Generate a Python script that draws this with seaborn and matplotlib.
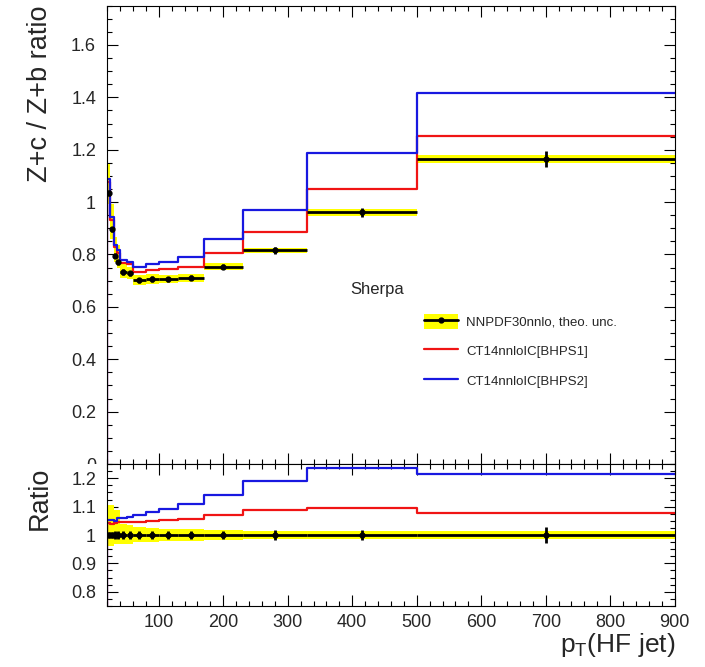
import numpy as np
import pandas as pd
import matplotlib
matplotlib.use("Agg")
import matplotlib.pyplot as plt
import seaborn as sns
from matplotlib.patches import Patch, Rectangle
from matplotlib.lines import Line2D
from matplotlib.ticker import MultipleLocator, FuncFormatter

# ---------------- data ----------------
bin_edges = [20, 25, 30, 35, 40, 50, 60, 80, 100, 130, 170, 230, 330, 500, 900]
nnpdf = [1.036, 0.896, 0.796, 0.770, 0.733, 0.728, 0.702, 0.706, 0.705, 0.711, 0.753, 0.816, 0.961, 1.165]
nnpdf_err = [0.012, 0.010, 0.010, 0.010, 0.010, 0.010, 0.010, 0.010, 0.010, 0.010, 0.010, 0.013, 0.017, 0.032]
theo_up = [0.107, 0.107, 0.088, 0.088, 0.040, 0.035, 0.028, 0.025, 0.022, 0.020, 0.018, 0.013, 0.013, 0.013]
theo_dn = [0.040, 0.040, 0.030, 0.030, 0.030, 0.030, 0.025, 0.025, 0.022, 0.020, 0.018, 0.013, 0.013, 0.013]
bhps1 = [1.078, 0.932, 0.830, 0.804, 0.766, 0.762, 0.735, 0.740, 0.743, 0.751, 0.805, 0.887, 1.051, 1.254]
bhps2 = [1.090, 0.944, 0.836, 0.817, 0.778, 0.773, 0.751, 0.764, 0.770, 0.789, 0.860, 0.970, 1.189, 1.415]
labels = ["NNPDF30nnlo, theo. unc.", "CT14nnloIC[BHPS1]", "CT14nnloIC[BHPS2]"]

edges = np.array(bin_edges, float)
centers = 0.5 * (edges[:-1] + edges[1:])
halfw = 0.5 * (edges[1:] - edges[:-1])
widths = edges[1:] - edges[:-1]
c0 = np.array(nnpdf)
err = np.array(nnpdf_err)
up = np.array(theo_up)
dn = np.array(theo_dn)
r1 = np.array(bhps1)
r2 = np.array(bhps2)

YEL = "#ffff00"
RED = "#f01414"
BLUE = "#1818e0"


def step_frame(vals, base, name):
    x = [edges[0]] + list(edges)
    y = [base] + list(vals) + [vals[-1]]
    return pd.DataFrame({"pT": x, "val": y, "model": name})


sns.set_style("ticks")
plt.rcParams["font.family"] = ["Liberation Sans", "DejaVu Sans"]
plt.rcParams["mathtext.fontset"] = "custom"
plt.rcParams["mathtext.rm"] = "Liberation Sans"
plt.rcParams["axes.linewidth"] = 0.8

fig = plt.figure(figsize=(7.05, 6.67), dpi=100)
L, W = 0.152, 0.805
ax1 = fig.add_axes([L, 0.3043, W, 0.6872])
ax2 = fig.add_axes([L, 0.0915, W, 0.2128])
ax1.set_zorder(0)
ax2.set_zorder(2)

# ---------------- top panel ----------------
ax1.bar(edges[:-1], c0 * (up + dn), bottom=c0 * (1 - dn), width=widths,
        align="edge", color=YEL, linewidth=0, zorder=1)
top_df = pd.concat([step_frame(r1, 0.0, labels[1]), step_frame(r2, 0.0, labels[2])])
sns.lineplot(data=top_df, x="pT", y="val", hue="model",
             palette={labels[1]: RED, labels[2]: BLUE}, estimator=None, sort=False,
             drawstyle="steps-post", linewidth=1.6, legend=False, ax=ax1, zorder=2)
ax1.errorbar(centers, c0, xerr=halfw, yerr=err, fmt="o", ms=3.5, color="black",
             elinewidth=2.0, capsize=0, zorder=3)

ax1.set_xlim(20, 900)
ax1.set_ylim(0, 1.75)
ax1.xaxis.set_major_locator(MultipleLocator(100))
ax1.xaxis.set_minor_locator(MultipleLocator(20))
ax1.yaxis.set_major_locator(MultipleLocator(0.2))
ax1.yaxis.set_minor_locator(MultipleLocator(0.05))
ax1.set_xticklabels([])
ax1.yaxis.set_major_formatter(FuncFormatter(lambda v, p: f"{v:g}"))
ax1.set_xlabel("")
ax1.set_ylabel("")

ax1.text(0.428, 0.38, "Sherpa", transform=ax1.transAxes, fontsize=12,
         ha="left", va="center")

handles = [
    (Patch(facecolor=YEL, edgecolor="none"),
     Line2D([], [], color="black", lw=2, marker="o", ms=3.5)),
    Line2D([], [], color=RED, lw=1.6),
    Line2D([], [], color=BLUE, lw=1.6),
]
ax1.legend(handles, labels, loc="upper left", bbox_to_anchor=(0.558, 0.328),
           frameon=False, fontsize=9.5, handlelength=2.6, handleheight=1.4,
           handletextpad=0.6, labelspacing=1.1, borderpad=0, borderaxespad=0)

# ---------------- ratio panel ----------------
ax2.bar(edges[:-1], up + dn, bottom=1 - dn, width=widths,
        align="edge", color=YEL, linewidth=0, zorder=1)
rat_df = pd.concat([step_frame(r1 / c0, 0.0, labels[1]), step_frame(r2 / c0, 0.0, labels[2])])
sns.lineplot(data=rat_df, x="pT", y="val", hue="model",
             palette={labels[1]: RED, labels[2]: BLUE}, estimator=None, sort=False,
             drawstyle="steps-post", linewidth=1.6, legend=False, ax=ax2, zorder=2)
ax2.errorbar(centers, np.ones_like(c0), xerr=halfw, yerr=err / c0, fmt="o", ms=3.5,
             color="black", elinewidth=2.0, capsize=0, zorder=3)

ax2.set_xlim(20, 900)
ax2.set_ylim(0.75, 1.25)
ax2.xaxis.set_major_locator(MultipleLocator(100))
ax2.xaxis.set_minor_locator(MultipleLocator(20))
ax2.yaxis.set_major_locator(MultipleLocator(0.1))
ax2.yaxis.set_minor_locator(MultipleLocator(0.025))
ax2.yaxis.set_major_formatter(FuncFormatter(lambda v, p: f"{v:g}"))
ax2.set_xlabel("")
ax2.set_ylabel("")

for ax in (ax1, ax2):
    ax.tick_params(which="both", direction="in", top=True, right=True,
                   width=0.8, labelsize=13, color="black")
    ax.tick_params(which="major", length=8, pad=8)
    ax.tick_params(which="minor", length=3.5)
    ax.tick_params(axis="x", which="major", pad=6)
    for s in ax.spines.values():
        s.set_color("black")
        s.set_linewidth(0.8)

# hide the lower half of the top panel's "0" label, like the ROOT lower pad
fig.patches.append(Rectangle((0, 0), 1, 0.3043, transform=fig.transFigure,
                             facecolor="white", edgecolor="none", zorder=1))

fig.text(40 / 705, 1 - 5 / 667, "Z+c / Z+b ratio", rotation=90, fontsize=19.5,
         ha="center", va="top", zorder=3)
fig.text(40 / 705, 1 - 467 / 667, "Ratio", rotation=90, fontsize=19.5,
         ha="center", va="top", zorder=3)
fig.text(675 / 705, 1 - 652 / 667, r"p$_{\mathrm{T}}$(HF jet)", fontsize=19,
         ha="right", va="baseline", zorder=3)

fig.savefig("out.png", dpi=100, facecolor="white")
